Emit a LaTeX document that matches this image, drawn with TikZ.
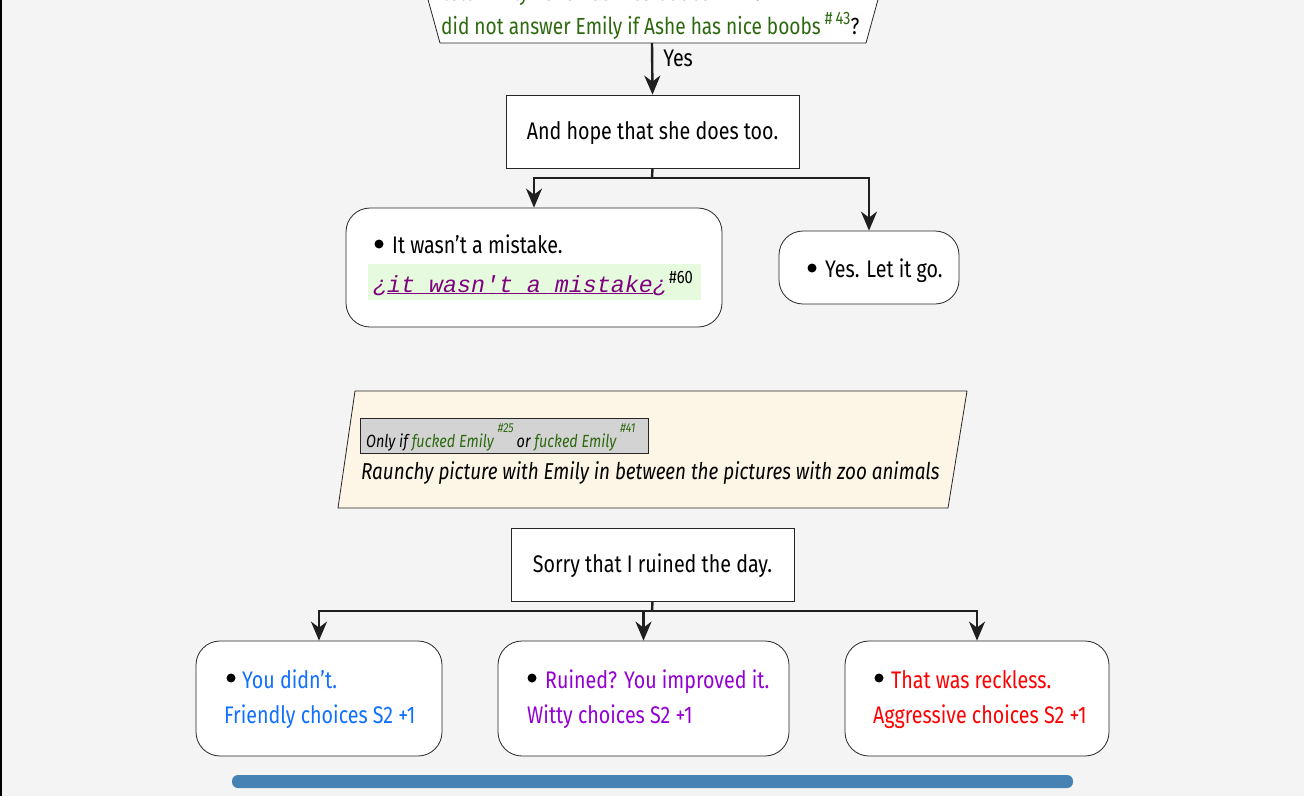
\documentclass[tikz,border=0pt]{standalone}
\usepackage{fontspec}
\setmainfont{Fira Sans}[FakeStretch=0.82]
\newfontfamily\codefont{Liberation Mono}
\usetikzlibrary{arrows.meta}

\definecolor{pageback}{RGB}{244,244,244}
\definecolor{condgreen}{RGB}{45,105,15}
\definecolor{friendly}{RGB}{16,112,255}
\definecolor{witty}{RGB}{148,0,211}
\definecolor{aggro}{RGB}{255,0,0}
\definecolor{codepurple}{RGB}{128,0,128}
\definecolor{codeback}{RGB}{230,250,222}
\definecolor{noteback}{RGB}{253,245,230}
\definecolor{gatebox}{RGB}{211,211,211}
\definecolor{barblue}{RGB}{70,130,180}

\tikzset{
  actbox/.style = {draw=black!85, fill=white, line width=0.8pt, inner sep=0pt},
  roundact/.style = {actbox, rounded corners=24pt},
  flow/.style = {line width=2.4pt, draw=black!88, -{Stealth[length=19pt,width=16pt,inset=6pt]}},
  txt/.style = {anchor=base west, inner sep=0pt},
  dot/.style = {circle, fill=black, inner sep=0pt, minimum size=9pt},
}

\begin{document}
\begin{tikzpicture}[x=1pt, y=-1pt, font=\fontsize{24}{28}\selectfont]
\fill[pageback] (0,0) rectangle (1304,796);
\useasboundingbox (0,0) rectangle (1304,796);
\clip (0,0) rectangle (1304,796);
\fill[black] (0,0) rectangle (2,796);

% condition at the top (cut by the page)
\draw[fill=white, draw=black!85, line width=0.8pt] (424,-15) -- (440,43) -- (866,43) -- (882,-15);
\coordinate (cond) at (652,43);
\node[txt, condgreen] (condA) at (442,0) {\fontsize{23.3}{26}\selectfont told Emily Ashe has nice boobs};
\node[txt] (condB) at (752,0) {or};
\node[txt, condgreen] (condC) at (441,34) {\fontsize{23.3}{26}\selectfont did not answer Emily if Ashe has nice boobs\hspace{4pt}\raisebox{10pt}{\fontsize{18}{20}\selectfont\#\,43}\textcolor{black}{?}};

% first step
\node[actbox, minimum width=293pt, minimum height=73pt, text depth=2pt] (hope) at (652.5,131.5) {And hope that she does too.};
\draw[flow] (cond) -- (hope.north) node[pos=0.3, right, inner sep=10pt] (yes) {Yes};

\node[roundact, minimum width=376pt, minimum height=119pt] (mistake) at (534,267.5) {};
\node[roundact, minimum width=180pt, minimum height=73pt] (letgo) at (869,267.5) {};
\coordinate (split1) at (652,178);
\draw[line width=2.4pt, draw=black!88] (hope.south) -- (split1);
\draw[flow] (split1) -| (mistake.north);
\draw[flow] (split1) -| (letgo.north);

\node[dot] (dotA) at (379,244) {};
\node[txt] (mistakeA) at (392,253) {It wasn't a mistake.};
\fill[codeback] (368,264) rectangle (701,300);
\node[txt, codepurple] (mistakeB) at (373,292) {\fontsize{23.3}{26}\codefont\itshape ¿\underline{it wasn't a mistake}¿};
\node[txt] (ref60) at (669,283) {\fontsize{18}{20}\selectfont\#60};

\node[dot] (dotB) at (812,268) {};
\node[txt] (letgoA) at (825,277) {Yes. Let it go.};

% note
\draw[fill=noteback, draw=black!85, line width=0.8pt] (355,391) -- (967,391) -- (948,508) -- (338,508) -- cycle;
\node[draw=black!85, fill=gatebox, line width=0.8pt, minimum width=288pt, minimum height=35pt, anchor=north west] (gate) at (360,418) {};
\node[txt] (gateA) at (366,447) {\fontsize{17.6}{20}\selectfont\itshape Only if \textcolor{condgreen}{fucked Emily}\hspace{4pt}\raisebox{15pt}{\fontsize{13}{14}\selectfont\textcolor{condgreen}{\#25}}\hspace{3pt}or \textcolor{condgreen}{fucked Emily}\hspace{4pt}\raisebox{15pt}{\fontsize{13}{14}\selectfont\textcolor{condgreen}{\#41}}};
\node[txt] (raunchy) at (361,479) {\fontsize{23}{26}\selectfont\itshape Raunchy picture with Emily in between the pictures with zoo animals};

% second step
\node[actbox, minimum width=283pt, minimum height=73pt, text depth=2pt] (sorry) at (652.5,564.5) {Sorry that I ruined the day.};
\node[roundact, minimum width=246pt, minimum height=115pt] (friendlybox) at (319,698.5) {};
\node[roundact, minimum width=291pt, minimum height=115pt] (wittybox) at (643.5,698.5) {};
\node[roundact, minimum width=264pt, minimum height=115pt] (aggrobox) at (977,698.5) {};
\coordinate (split2) at (652,611);
\draw[line width=2.4pt, draw=black!88] (sorry.south) -- (split2);
\draw[flow] (split2) -| (friendlybox.north);
\draw[flow] (split2) -| (wittybox.north);
\draw[flow] (split2) -| (aggrobox.north);

\node[dot] (dotC) at (231,678) {};
\node[txt, friendly] (friendlyA) at (242,688) {You didn't.};
\node[txt, friendly] (friendlyB) at (224,723) {Friendly choices S2 +1};
\node[dot] (dotD) at (532,678) {};
\node[txt, witty] (wittyA) at (545,688) {Ruined? You improved it.};
\node[txt, witty] (wittyB) at (527,723) {Witty choices S2 +1};
\node[dot] (dotE) at (879,678) {};
\node[txt, aggro] (aggroA) at (891,688) {That was reckless.};
\node[txt, aggro] (aggroB) at (873,723) {Aggressive choices S2 +1};

\fill[barblue, rounded corners=6pt] (232,775) rectangle (1073,788);
\end{tikzpicture}
\end{document}
